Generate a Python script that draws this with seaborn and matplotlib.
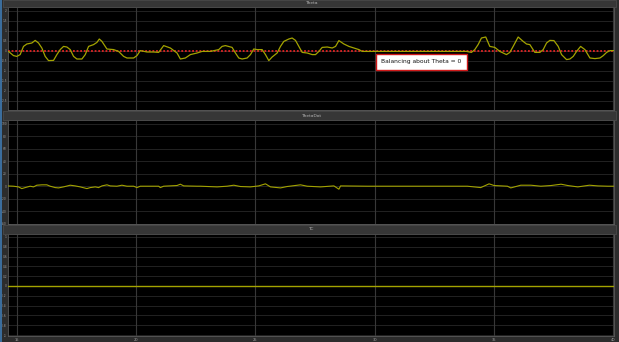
import numpy as np
import pandas as pd
import matplotlib
matplotlib.use("Agg")
import matplotlib.pyplot as plt
import seaborn as sns

# ---------------- data ----------------
theta_t = [14.64, 14.85, 14.99, 15.13, 15.27, 15.41, 15.62, 15.76, 15.90, 16.04, 16.18, 16.32,
           16.53, 16.67, 16.81, 16.95, 17.09, 17.23, 17.37, 17.51, 17.72, 17.86, 18.00, 18.21,
           18.35, 18.45, 18.56, 18.77, 19.05, 19.26, 19.47, 19.61, 19.89, 20.03, 20.17, 20.45,
           20.73, 20.94, 21.15, 21.43, 21.71, 21.85, 22.06, 22.27, 22.55, 22.76, 23.11, 23.46,
           23.60, 23.74, 24.02, 24.16, 24.30, 24.44, 24.65, 24.79, 24.93, 25.07, 25.28, 25.42,
           25.56, 25.70, 25.91, 26.05, 26.19, 26.40, 26.54, 26.68, 26.82, 26.96, 27.17, 27.38,
           27.52, 27.66, 27.80, 28.01, 28.22, 28.36, 28.50, 28.71, 28.92, 29.13, 29.34, 29.48,
           29.97, 30.25, 31.47, 33.29, 33.85, 34.06, 34.20, 34.34, 34.48, 34.66, 34.83, 35.04,
           35.25, 35.53, 35.67, 35.81, 36.02, 36.23, 36.37, 36.51, 36.72, 36.93, 37.07, 37.21,
           37.35, 37.52, 37.70, 37.84, 38.05, 38.19, 38.33, 38.47, 38.64, 38.82, 39.03, 39.24,
           39.45, 39.59, 39.73, 39.87, 40.08]
theta_v = [-0.02, -0.23, -0.27, -0.18, 0.23, 0.35, 0.40, 0.53, 0.40, 0.15, -0.27, -0.48,
           -0.47, -0.18, 0.07, 0.23, 0.20, 0.07, -0.27, -0.40, -0.40, -0.18, 0.23, 0.32,
           0.43, 0.60, 0.48, 0.10, 0.07, -0.02, -0.27, -0.35, -0.35, -0.23, 0.02, -0.05,
           -0.05, -0.07, 0.27, 0.15, -0.10, -0.40, -0.35, -0.18, -0.10, -0.02, -0.02, 0.07,
           0.23, 0.27, 0.18, -0.10, -0.35, -0.40, -0.35, -0.18, 0.10, 0.07, 0.07, -0.18,
           -0.48, -0.30, -0.10, 0.23, 0.48, 0.60, 0.65, 0.53, 0.23, -0.07, -0.10, -0.18,
           -0.18, -0.02, 0.18, 0.20, 0.15, 0.23, 0.52, 0.35, 0.23, 0.15, 0.07, -0.02,
           -0.02, -0.02, -0.02, -0.02, -0.02, -0.07, 0.07, 0.32, 0.65, 0.70, 0.23, 0.18,
           -0.02, -0.18, -0.07, 0.23, 0.70, 0.48, 0.35, 0.32, -0.07, -0.07, 0.07, 0.40,
           0.53, 0.52, 0.23, -0.18, -0.43, -0.40, -0.27, -0.02, 0.23, 0.07, -0.35, -0.38,
           -0.35, -0.23, -0.07, 0.02, 0.02]

ref_t = [14.6, 40.1]
ref_v = [0.0, 0.0]

thetadot_t = [14.57, 14.85, 15.06, 15.20, 15.34, 15.55, 15.69, 15.83, 16.04, 16.25, 16.39, 16.60,
              16.74, 16.95, 17.23, 17.44, 17.65, 17.93, 18.07, 18.28, 18.42, 18.56, 18.77, 18.91,
              19.19, 19.40, 19.61, 19.89, 20.03, 20.17, 20.45, 20.94, 21.01, 21.15, 21.71, 21.85,
              21.99, 22.55, 22.69, 23.39, 23.81, 24.09, 24.37, 24.79, 25.14, 25.42, 25.63, 26.05,
              26.33, 26.89, 27.17, 27.73, 28.29, 28.50, 28.57, 29.69, 31.09, 32.49, 33.89, 34.45,
              34.80, 35.01, 35.57, 35.71, 36.13, 36.55, 36.97, 37.40, 37.82, 38.10, 38.52, 39.01,
              39.36, 39.78, 40.13]
thetadot_v = [0.5, 0.0, -1.1, -3.8, -2.2, 0.0, -1.1, 1.6, 2.2, 2.2, 0.0, -2.2,
              -2.7, -1.1, 1.6, 0.5, -1.1, -3.8, -2.2, -1.1, -2.2, 0.5, 2.2, 0.5,
              0.0, 1.6, 0.0, 0.0, -2.2, 0.0, 0.0, 0.0, -2.2, 0.0, 1.1, 3.2,
              0.5, 0.0, 0.0, -1.1, 0.0, 1.6, -0.5, -1.1, 0.5, 3.8, -1.1, -2.7,
              -0.5, 2.2, 0.0, -1.1, 0.5, -4.8, 0.5, 0.0, 0.0, 0.0, 0.0, -2.2,
              3.8, 1.1, 0.0, -2.7, 1.6, 1.6, 0.0, 1.1, 3.2, 1.1, -1.1, 1.6,
              0.5, 0.0, 0.0]

tc_t = [14.6, 40.1]
tc_v = [0.0, 0.0]

titles = ["Theta", "ThetaDot", "TC"]
x_ticks = [15, 20, 25, 30, 35, 40]
theta_ticks = [-2.5, -2, -1.5, -1, -0.5, 0, 0.5, 1, 1.5, 2]
thetadot_ticks = [-60, -40, -20, 0, 20, 40, 60, 80, 100]
tc_ticks = [-1, -0.8, -0.6, -0.4, -0.2, 0, 0.2, 0.4, 0.6, 0.8, 1]
annotation = "Balancing about Theta = 0"

# ---------------- style ----------------
sns.set_style("dark")
plt.rcParams["font.family"] = ["DejaVu Sans"]

W, H = 619, 342
fig = plt.figure(figsize=(W / 100, H / 100), dpi=100, facecolor="#2c2c2c")

LINE = "#a3a300"
AXBG = "#000000"
HGRID = "#232323"
VGRID = "#383838"
TXT = "#a0a0a0"

def frac_rect(x0, y0, x1, y1):
    return [x0 / W, 1 - y1 / H, (x1 - x0) / W, (y1 - y0) / H]

# left blue strip
fig.patches.append(plt.Rectangle((0, 0), 2.0 / W, 1, transform=fig.transFigure,
                                 facecolor="#3b6d9c", edgecolor="none", zorder=0))

panels = [
    (frac_rect(8, 7, 614, 110), (0, 7)),
    (frac_rect(8, 120, 614, 224), (111, 120)),
    (frac_rect(8, 234, 614, 336), (225, 234)),
]

axes = []
for rect, (ty0, ty1) in panels:
    band = plt.Rectangle((3 / W, 1 - ty1 / H), (616 - 3) / W, (ty1 - ty0) / H,
                         transform=fig.transFigure, facecolor="#363636",
                         edgecolor="#4a4a4a", linewidth=0.6, zorder=0)
    fig.patches.append(band)
    ax = fig.add_axes(rect)
    ax.set_facecolor(AXBG)
    axes.append(ax)

for ax, title, (rect, (ty0, ty1)) in zip(axes, titles, panels):
    fig.text(311 / W, 1 - ((ty0 + ty1) / 2) / H, title, ha="center", va="center",
             fontsize=3.2, color="#b8b8b8")

df_theta = pd.DataFrame({"t": theta_t, "v": theta_v})
df_ref = pd.DataFrame({"t": ref_t, "v": ref_v})
df_td = pd.DataFrame({"t": thetadot_t, "v": thetadot_v})
df_tc = pd.DataFrame({"t": tc_t, "v": tc_v})

sns.lineplot(data=df_ref, x="t", y="v", ax=axes[0], color="#e02424", lw=1.3,
             linestyle=(0, (1, 1)), zorder=3)
sns.lineplot(data=df_theta, x="t", y="v", ax=axes[0], color=LINE, lw=0.9, zorder=4)
sns.lineplot(data=df_td, x="t", y="v", ax=axes[1], color=LINE, lw=0.8, zorder=4)
sns.lineplot(data=df_tc, x="t", y="v", ax=axes[2], color=LINE, lw=1.0, zorder=4)

ylims = [(-2.95, 2.2), (-60.5, 106), (-1.02, 1.06)]
yticks = [theta_ticks, thetadot_ticks, tc_ticks]

for i, ax in enumerate(axes):
    ax.set_xlim(14.62, 40.04)
    ax.set_ylim(*ylims[i])
    ax.set_xticks(x_ticks)
    ax.set_yticks(yticks[i])
    ax.set_yticklabels(["%g" % v for v in yticks[i]])
    ax.set_xlabel("")
    ax.set_ylabel("")
    ax.grid(False)
    for v in yticks[i]:
        ax.axhline(v, color=HGRID, lw=0.7, zorder=1)
    for v in x_ticks:
        ax.axvline(v, color=VGRID, lw=0.8, zorder=1)
    ax.tick_params(axis="y", labelsize=2.1, labelcolor=TXT, length=1.5, width=0.4,
                   color="#777777", direction="in", pad=0.8, right=True, left=True)
    ax.tick_params(axis="x", labelsize=2.6, labelcolor=TXT, length=1.5, width=0.4,
                   color="#777777", direction="in", pad=1.5, top=False)
    for sp in ax.spines.values():
        sp.set_color("#5a5a5a")
        sp.set_linewidth(0.6)
        sp.set_visible(True)
    if i < 2:
        ax.set_xticklabels([])
    else:
        ax.set_xticklabels([str(v) for v in x_ticks])

axes[0].text(31.97, -0.55, annotation, ha="center", va="center", fontsize=4.3,
             color="#111111", zorder=6,
             bbox=dict(boxstyle="square,pad=0.85", facecolor="white",
                       edgecolor="#d01818", linewidth=1.0))

fig.savefig("out.png", dpi=100, facecolor=fig.get_facecolor())
